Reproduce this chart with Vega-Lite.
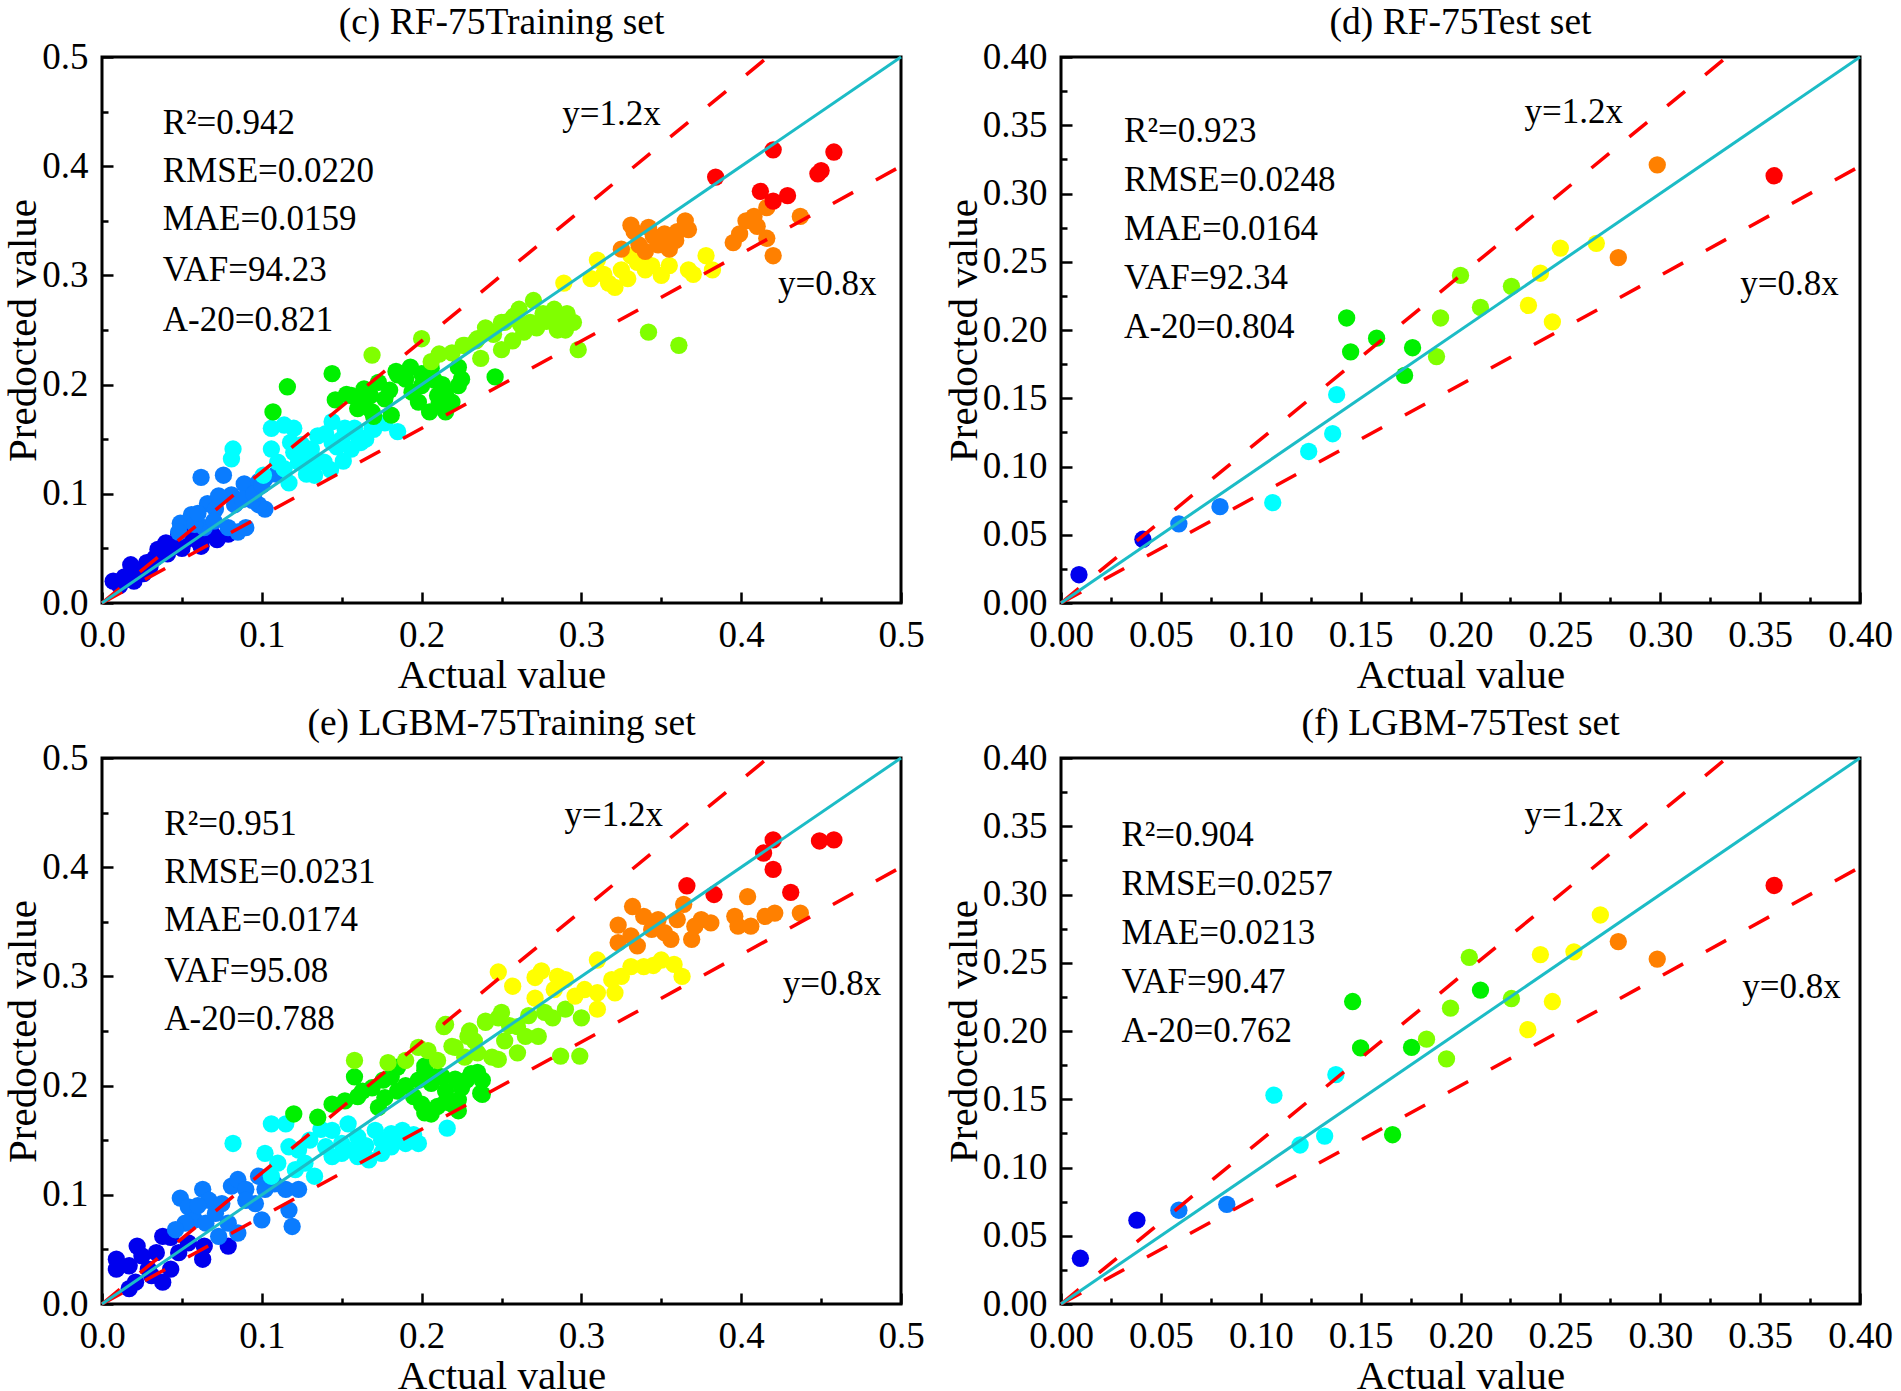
{
  "$schema": "https://vega.github.io/schema/vega-lite/v6.json",
  "background": "white",
  "padding": {"left": 1, "top": 2, "right": 0, "bottom": 0},
  "columns": 2,
  "spacing": {"row": 155, "column": 160},
  "bounds": "flush",
  "datasets": {
    "c_pts": [
      {"a":0.007,"p":0.020,"g":"b0"},{"a":0.020,"p":0.020,"g":"b0"},{"a":0.018,"p":0.035,"g":"b0"},{"a":0.028,"p":0.037,"g":"b0"},{"a":0.035,"p":0.049,"g":"b0"},{"a":0.045,"p":0.053,"g":"b0"},{"a":0.048,"p":0.063,"g":"b0"},{"a":0.056,"p":0.065,"g":"b0"},{"a":0.064,"p":0.061,"g":"b0"},{"a":0.069,"p":0.063,"g":"b0"},{"a":0.052,"p":0.057,"g":"b0"},{"a":0.041,"p":0.045,"g":"b0"},{"a":0.030,"p":0.033,"g":"b0"},{"a":0.014,"p":0.024,"g":"b0"},{"a":0.011,"p":0.016,"g":"b0"},{"a":0.079,"p":0.063,"g":"b0"},{"a":0.060,"p":0.057,"g":"b0"},{"a":0.033,"p":0.041,"g":"b0"},{"a":0.024,"p":0.030,"g":"b0"},{"a":0.050,"p":0.050,"g":"b0"},{"a":0.040,"p":0.055,"g":"b0"},{"a":0.026,"p":0.027,"g":"b0"},{"a":0.062,"p":0.052,"g":"b0"},{"a":0.072,"p":0.058,"g":"b0"},
      {"a":0.062,"p":0.115,"g":"b1"},{"a":0.076,"p":0.117,"g":"b1"},{"a":0.066,"p":0.091,"g":"b1"},{"a":0.049,"p":0.073,"g":"b1"},{"a":0.056,"p":0.081,"g":"b1"},{"a":0.081,"p":0.099,"g":"b1"},{"a":0.089,"p":0.109,"g":"b1"},{"a":0.098,"p":0.111,"g":"b1"},{"a":0.102,"p":0.114,"g":"b1"},{"a":0.102,"p":0.086,"g":"b1"},{"a":0.098,"p":0.090,"g":"b1"},{"a":0.085,"p":0.065,"g":"b1"},{"a":0.079,"p":0.069,"g":"b1"},{"a":0.071,"p":0.086,"g":"b1"},{"a":0.048,"p":0.065,"g":"b1"},{"a":0.094,"p":0.094,"g":"b1"},{"a":0.083,"p":0.090,"g":"b1"},{"a":0.090,"p":0.069,"g":"b1"},{"a":0.064,"p":0.069,"g":"b1"},{"a":0.109,"p":0.118,"g":"b1"},{"a":0.070,"p":0.075,"g":"b1"},{"a":0.058,"p":0.072,"g":"b1"},{"a":0.088,"p":0.095,"g":"b1"},{"a":0.095,"p":0.100,"g":"b1"},{"a":0.100,"p":0.108,"g":"b1"},{"a":0.073,"p":0.098,"g":"b1"},{"a":0.060,"p":0.082,"g":"b1"},
      {"a":0.082,"p":0.141,"g":"c"},{"a":0.081,"p":0.132,"g":"c"},{"a":0.106,"p":0.160,"g":"c"},{"a":0.114,"p":0.163,"g":"c"},{"a":0.120,"p":0.160,"g":"c"},{"a":0.106,"p":0.141,"g":"c"},{"a":0.110,"p":0.129,"g":"c"},{"a":0.101,"p":0.117,"g":"c"},{"a":0.114,"p":0.123,"g":"c"},{"a":0.123,"p":0.129,"g":"c"},{"a":0.131,"p":0.141,"g":"c"},{"a":0.135,"p":0.153,"g":"c"},{"a":0.144,"p":0.166,"g":"c"},{"a":0.152,"p":0.160,"g":"c"},{"a":0.160,"p":0.153,"g":"c"},{"a":0.169,"p":0.160,"g":"c"},{"a":0.185,"p":0.157,"g":"c"},{"a":0.144,"p":0.147,"g":"c"},{"a":0.139,"p":0.129,"g":"c"},{"a":0.133,"p":0.117,"g":"c"},{"a":0.156,"p":0.141,"g":"c"},{"a":0.127,"p":0.135,"g":"c"},{"a":0.118,"p":0.147,"g":"c"},{"a":0.128,"p":0.118,"g":"c"},{"a":0.117,"p":0.110,"g":"c"},{"a":0.147,"p":0.143,"g":"c"},{"a":0.162,"p":0.147,"g":"c"},{"a":0.170,"p":0.159,"g":"c"},{"a":0.177,"p":0.165,"g":"c"},{"a":0.151,"p":0.130,"g":"c"},{"a":0.143,"p":0.122,"g":"c"},{"a":0.136,"p":0.130,"g":"c"},{"a":0.125,"p":0.145,"g":"c"},{"a":0.140,"p":0.155,"g":"c"},{"a":0.150,"p":0.150,"g":"c"},{"a":0.158,"p":0.160,"g":"c"},{"a":0.165,"p":0.150,"g":"c"},{"a":0.130,"p":0.125,"g":"c"},{"a":0.120,"p":0.138,"g":"c"},
      {"a":0.116,"p":0.198,"g":"g"},{"a":0.107,"p":0.175,"g":"g"},{"a":0.144,"p":0.210,"g":"g"},{"a":0.146,"p":0.186,"g":"g"},{"a":0.156,"p":0.190,"g":"g"},{"a":0.164,"p":0.196,"g":"g"},{"a":0.173,"p":0.202,"g":"g"},{"a":0.177,"p":0.187,"g":"g"},{"a":0.181,"p":0.172,"g":"g"},{"a":0.185,"p":0.209,"g":"g"},{"a":0.198,"p":0.184,"g":"g"},{"a":0.200,"p":0.199,"g":"g"},{"a":0.206,"p":0.215,"g":"g"},{"a":0.210,"p":0.190,"g":"g"},{"a":0.219,"p":0.184,"g":"g"},{"a":0.215,"p":0.175,"g":"g"},{"a":0.223,"p":0.199,"g":"g"},{"a":0.246,"p":0.207,"g":"g"},{"a":0.205,"p":0.175,"g":"g"},{"a":0.194,"p":0.193,"g":"g"},{"a":0.169,"p":0.175,"g":"g"},{"a":0.160,"p":0.178,"g":"g"},{"a":0.153,"p":0.191,"g":"g"},{"a":0.162,"p":0.183,"g":"g"},{"a":0.184,"p":0.212,"g":"g"},{"a":0.193,"p":0.216,"g":"g"},{"a":0.208,"p":0.204,"g":"g"},{"a":0.215,"p":0.191,"g":"g"},{"a":0.223,"p":0.216,"g":"g"},{"a":0.211,"p":0.183,"g":"g"},{"a":0.170,"p":0.171,"g":"g"},{"a":0.190,"p":0.205,"g":"g"},{"a":0.200,"p":0.210,"g":"g"},{"a":0.180,"p":0.195,"g":"g"},{"a":0.213,"p":0.200,"g":"g"},{"a":0.225,"p":0.205,"g":"g"},{"a":0.168,"p":0.190,"g":"g"},
      {"a":0.169,"p":0.227,"g":"yg"},{"a":0.200,"p":0.242,"g":"yg"},{"a":0.206,"p":0.221,"g":"yg"},{"a":0.219,"p":0.229,"g":"yg"},{"a":0.227,"p":0.236,"g":"yg"},{"a":0.235,"p":0.242,"g":"yg"},{"a":0.244,"p":0.248,"g":"yg"},{"a":0.252,"p":0.257,"g":"yg"},{"a":0.258,"p":0.263,"g":"yg"},{"a":0.237,"p":0.224,"g":"yg"},{"a":0.270,"p":0.277,"g":"yg"},{"a":0.261,"p":0.269,"g":"yg"},{"a":0.257,"p":0.261,"g":"yg"},{"a":0.250,"p":0.257,"g":"yg"},{"a":0.264,"p":0.248,"g":"yg"},{"a":0.276,"p":0.265,"g":"yg"},{"a":0.283,"p":0.269,"g":"yg"},{"a":0.291,"p":0.265,"g":"yg"},{"a":0.295,"p":0.257,"g":"yg"},{"a":0.298,"p":0.232,"g":"yg"},{"a":0.289,"p":0.257,"g":"yg"},{"a":0.280,"p":0.261,"g":"yg"},{"a":0.268,"p":0.257,"g":"yg"},{"a":0.245,"p":0.246,"g":"yg"},{"a":0.234,"p":0.240,"g":"yg"},{"a":0.226,"p":0.236,"g":"yg"},{"a":0.211,"p":0.228,"g":"yg"},{"a":0.257,"p":0.240,"g":"yg"},{"a":0.250,"p":0.232,"g":"yg"},{"a":0.342,"p":0.248,"g":"yg"},{"a":0.361,"p":0.236,"g":"yg"},{"a":0.285,"p":0.250,"g":"yg"},{"a":0.272,"p":0.252,"g":"yg"},{"a":0.240,"p":0.252,"g":"yg"},{"a":0.262,"p":0.255,"g":"yg"},{"a":0.278,"p":0.258,"g":"yg"},{"a":0.290,"p":0.250,"g":"yg"},
      {"a":0.310,"p":0.314,"g":"y"},{"a":0.314,"p":0.301,"g":"y"},{"a":0.317,"p":0.293,"g":"y"},{"a":0.321,"p":0.289,"g":"y"},{"a":0.331,"p":0.318,"g":"y"},{"a":0.340,"p":0.305,"g":"y"},{"a":0.355,"p":0.309,"g":"y"},{"a":0.367,"p":0.305,"g":"y"},{"a":0.378,"p":0.318,"g":"y"},{"a":0.382,"p":0.305,"g":"y"},{"a":0.306,"p":0.297,"g":"y"},{"a":0.325,"p":0.305,"g":"y"},{"a":0.344,"p":0.309,"g":"y"},{"a":0.289,"p":0.293,"g":"y"},{"a":0.370,"p":0.301,"g":"y"},{"a":0.329,"p":0.297,"g":"y"},{"a":0.335,"p":0.312,"g":"y"},{"a":0.350,"p":0.300,"g":"y"},
      {"a":0.331,"p":0.346,"g":"o"},{"a":0.342,"p":0.344,"g":"o"},{"a":0.352,"p":0.338,"g":"o"},{"a":0.359,"p":0.332,"g":"o"},{"a":0.365,"p":0.350,"g":"o"},{"a":0.367,"p":0.342,"g":"o"},{"a":0.348,"p":0.328,"g":"o"},{"a":0.336,"p":0.328,"g":"o"},{"a":0.325,"p":0.324,"g":"o"},{"a":0.340,"p":0.322,"g":"o"},{"a":0.355,"p":0.324,"g":"o"},{"a":0.403,"p":0.350,"g":"o"},{"a":0.408,"p":0.354,"g":"o"},{"a":0.416,"p":0.362,"g":"o"},{"a":0.395,"p":0.330,"g":"o"},{"a":0.399,"p":0.338,"g":"o"},{"a":0.416,"p":0.334,"g":"o"},{"a":0.420,"p":0.318,"g":"o"},{"a":0.437,"p":0.354,"g":"o"},{"a":0.345,"p":0.336,"g":"o"},{"a":0.333,"p":0.340,"g":"o"},{"a":0.360,"p":0.340,"g":"o"},{"a":0.410,"p":0.345,"g":"o"},
      {"a":0.384,"p":0.390,"g":"r"},{"a":0.420,"p":0.415,"g":"r"},{"a":0.458,"p":0.413,"g":"r"},{"a":0.448,"p":0.393,"g":"r"},{"a":0.450,"p":0.396,"g":"r"},{"a":0.412,"p":0.377,"g":"r"},{"a":0.420,"p":0.368,"g":"r"},{"a":0.429,"p":0.373,"g":"r"}
    ],
    "d_pts": [
      {"a":0.009,"p":0.0207,"g":"b0"},{"a":0.041,"p":0.0467,"g":"b0"},{"a":0.059,"p":0.058,"g":"b1"},{"a":0.0796,"p":0.0706,"g":"b1"},
      {"a":0.106,"p":0.0735,"g":"c"},{"a":0.124,"p":0.111,"g":"c"},{"a":0.136,"p":0.124,"g":"c"},{"a":0.138,"p":0.1526,"g":"c"},
      {"a":0.143,"p":0.2088,"g":"g"},{"a":0.145,"p":0.184,"g":"g"},{"a":0.158,"p":0.194,"g":"g"},{"a":0.172,"p":0.1667,"g":"g"},{"a":0.176,"p":0.187,"g":"g"},
      {"a":0.188,"p":0.1805,"g":"yg"},{"a":0.190,"p":0.2088,"g":"yg"},{"a":0.200,"p":0.240,"g":"yg"},{"a":0.210,"p":0.2165,"g":"yg"},{"a":0.2255,"p":0.232,"g":"yg"},
      {"a":0.234,"p":0.218,"g":"y"},{"a":0.240,"p":0.2416,"g":"y"},{"a":0.246,"p":0.206,"g":"y"},{"a":0.250,"p":0.260,"g":"y"},{"a":0.268,"p":0.2635,"g":"y"},
      {"a":0.279,"p":0.253,"g":"o"},{"a":0.2985,"p":0.321,"g":"o"},{"a":0.357,"p":0.313,"g":"r"}
    ],
    "e_pts": [
      {"a":0.009,"p":0.041,"g":"b0"},{"a":0.009,"p":0.032,"g":"b0"},{"a":0.017,"p":0.035,"g":"b0"},{"a":0.022,"p":0.053,"g":"b0"},{"a":0.025,"p":0.044,"g":"b0"},{"a":0.021,"p":0.020,"g":"b0"},{"a":0.029,"p":0.032,"g":"b0"},{"a":0.034,"p":0.047,"g":"b0"},{"a":0.038,"p":0.062,"g":"b0"},{"a":0.043,"p":0.061,"g":"b0"},{"a":0.043,"p":0.032,"g":"b0"},{"a":0.038,"p":0.020,"g":"b0"},{"a":0.048,"p":0.047,"g":"b0"},{"a":0.063,"p":0.041,"g":"b0"},{"a":0.064,"p":0.053,"g":"b0"},{"a":0.079,"p":0.053,"g":"b0"},{"a":0.031,"p":0.026,"g":"b0"},{"a":0.017,"p":0.014,"g":"b0"},{"a":0.054,"p":0.056,"g":"b0"},
      {"a":0.049,"p":0.097,"g":"b1"},{"a":0.054,"p":0.089,"g":"b1"},{"a":0.063,"p":0.105,"g":"b1"},{"a":0.067,"p":0.095,"g":"b1"},{"a":0.058,"p":0.077,"g":"b1"},{"a":0.052,"p":0.074,"g":"b1"},{"a":0.046,"p":0.068,"g":"b1"},{"a":0.075,"p":0.092,"g":"b1"},{"a":0.081,"p":0.108,"g":"b1"},{"a":0.085,"p":0.114,"g":"b1"},{"a":0.090,"p":0.105,"g":"b1"},{"a":0.096,"p":0.092,"g":"b1"},{"a":0.100,"p":0.077,"g":"b1"},{"a":0.085,"p":0.065,"g":"b1"},{"a":0.073,"p":0.062,"g":"b1"},{"a":0.098,"p":0.117,"g":"b1"},{"a":0.102,"p":0.105,"g":"b1"},{"a":0.115,"p":0.105,"g":"b1"},{"a":0.123,"p":0.105,"g":"b1"},{"a":0.117,"p":0.086,"g":"b1"},{"a":0.119,"p":0.071,"g":"b1"},{"a":0.065,"p":0.074,"g":"b1"},{"a":0.079,"p":0.074,"g":"b1"},{"a":0.071,"p":0.083,"g":"b1"},{"a":0.060,"p":0.090,"g":"b1"},{"a":0.090,"p":0.095,"g":"b1"},{"a":0.108,"p":0.110,"g":"b1"},
      {"a":0.082,"p":0.147,"g":"c"},{"a":0.106,"p":0.165,"g":"c"},{"a":0.115,"p":0.165,"g":"c"},{"a":0.102,"p":0.138,"g":"c"},{"a":0.110,"p":0.129,"g":"c"},{"a":0.106,"p":0.117,"g":"c"},{"a":0.117,"p":0.144,"g":"c"},{"a":0.123,"p":0.141,"g":"c"},{"a":0.127,"p":0.129,"g":"c"},{"a":0.133,"p":0.117,"g":"c"},{"a":0.144,"p":0.159,"g":"c"},{"a":0.150,"p":0.147,"g":"c"},{"a":0.156,"p":0.141,"g":"c"},{"a":0.160,"p":0.153,"g":"c"},{"a":0.171,"p":0.159,"g":"c"},{"a":0.175,"p":0.150,"g":"c"},{"a":0.181,"p":0.156,"g":"c"},{"a":0.188,"p":0.159,"g":"c"},{"a":0.190,"p":0.147,"g":"c"},{"a":0.198,"p":0.147,"g":"c"},{"a":0.216,"p":0.161,"g":"c"},{"a":0.167,"p":0.132,"g":"c"},{"a":0.144,"p":0.135,"g":"c"},{"a":0.154,"p":0.165,"g":"c"},{"a":0.140,"p":0.144,"g":"c"},{"a":0.121,"p":0.123,"g":"c"},{"a":0.175,"p":0.138,"g":"c"},{"a":0.181,"p":0.144,"g":"c"},{"a":0.130,"p":0.150,"g":"c"},{"a":0.137,"p":0.160,"g":"c"},{"a":0.165,"p":0.145,"g":"c"},{"a":0.185,"p":0.150,"g":"c"},{"a":0.195,"p":0.155,"g":"c"},{"a":0.160,"p":0.135,"g":"c"},{"a":0.150,"p":0.138,"g":"c"},
      {"a":0.120,"p":0.174,"g":"g"},{"a":0.135,"p":0.171,"g":"g"},{"a":0.144,"p":0.183,"g":"g"},{"a":0.152,"p":0.186,"g":"g"},{"a":0.158,"p":0.208,"g":"g"},{"a":0.163,"p":0.195,"g":"g"},{"a":0.169,"p":0.198,"g":"g"},{"a":0.177,"p":0.189,"g":"g"},{"a":0.185,"p":0.195,"g":"g"},{"a":0.185,"p":0.217,"g":"g"},{"a":0.198,"p":0.205,"g":"g"},{"a":0.202,"p":0.214,"g":"g"},{"a":0.206,"p":0.202,"g":"g"},{"a":0.200,"p":0.183,"g":"g"},{"a":0.206,"p":0.174,"g":"g"},{"a":0.215,"p":0.195,"g":"g"},{"a":0.219,"p":0.183,"g":"g"},{"a":0.225,"p":0.198,"g":"g"},{"a":0.231,"p":0.211,"g":"g"},{"a":0.238,"p":0.205,"g":"g"},{"a":0.238,"p":0.192,"g":"g"},{"a":0.223,"p":0.177,"g":"g"},{"a":0.213,"p":0.208,"g":"g"},{"a":0.173,"p":0.180,"g":"g"},{"a":0.181,"p":0.208,"g":"g"},{"a":0.202,"p":0.218,"g":"g"},{"a":0.210,"p":0.209,"g":"g"},{"a":0.221,"p":0.206,"g":"g"},{"a":0.235,"p":0.212,"g":"g"},{"a":0.237,"p":0.193,"g":"g"},{"a":0.223,"p":0.187,"g":"g"},{"a":0.210,"p":0.181,"g":"g"},{"a":0.202,"p":0.175,"g":"g"},{"a":0.190,"p":0.200,"g":"g"},{"a":0.195,"p":0.190,"g":"g"},{"a":0.215,"p":0.185,"g":"g"},{"a":0.228,"p":0.205,"g":"g"},{"a":0.176,"p":0.205,"g":"g"},{"a":0.160,"p":0.190,"g":"g"},
      {"a":0.158,"p":0.223,"g":"yg"},{"a":0.179,"p":0.221,"g":"yg"},{"a":0.190,"p":0.223,"g":"yg"},{"a":0.198,"p":0.235,"g":"yg"},{"a":0.215,"p":0.256,"g":"yg"},{"a":0.221,"p":0.235,"g":"yg"},{"a":0.227,"p":0.226,"g":"yg"},{"a":0.233,"p":0.241,"g":"yg"},{"a":0.240,"p":0.259,"g":"yg"},{"a":0.248,"p":0.262,"g":"yg"},{"a":0.252,"p":0.241,"g":"yg"},{"a":0.244,"p":0.226,"g":"yg"},{"a":0.210,"p":0.223,"g":"yg"},{"a":0.204,"p":0.232,"g":"yg"},{"a":0.214,"p":0.254,"g":"yg"},{"a":0.240,"p":0.258,"g":"yg"},{"a":0.250,"p":0.267,"g":"yg"},{"a":0.260,"p":0.254,"g":"yg"},{"a":0.267,"p":0.264,"g":"yg"},{"a":0.277,"p":0.267,"g":"yg"},{"a":0.290,"p":0.270,"g":"yg"},{"a":0.300,"p":0.262,"g":"yg"},{"a":0.273,"p":0.245,"g":"yg"},{"a":0.260,"p":0.230,"g":"yg"},{"a":0.248,"p":0.224,"g":"yg"},{"a":0.287,"p":0.227,"g":"yg"},{"a":0.299,"p":0.227,"g":"yg"},{"a":0.229,"p":0.245,"g":"yg"},{"a":0.219,"p":0.236,"g":"yg"},{"a":0.235,"p":0.230,"g":"yg"},{"a":0.230,"p":0.250,"g":"yg"},{"a":0.255,"p":0.255,"g":"yg"},{"a":0.282,"p":0.262,"g":"yg"},{"a":0.265,"p":0.245,"g":"yg"},
      {"a":0.248,"p":0.304,"g":"y"},{"a":0.257,"p":0.291,"g":"y"},{"a":0.271,"p":0.299,"g":"y"},{"a":0.275,"p":0.305,"g":"y"},{"a":0.271,"p":0.280,"g":"y"},{"a":0.283,"p":0.288,"g":"y"},{"a":0.290,"p":0.297,"g":"y"},{"a":0.296,"p":0.282,"g":"y"},{"a":0.310,"p":0.315,"g":"y"},{"a":0.310,"p":0.285,"g":"y"},{"a":0.310,"p":0.270,"g":"y"},{"a":0.319,"p":0.297,"g":"y"},{"a":0.321,"p":0.285,"g":"y"},{"a":0.331,"p":0.309,"g":"y"},{"a":0.339,"p":0.309,"g":"y"},{"a":0.350,"p":0.315,"g":"y"},{"a":0.358,"p":0.311,"g":"y"},{"a":0.363,"p":0.300,"g":"y"},{"a":0.302,"p":0.288,"g":"y"},{"a":0.285,"p":0.300,"g":"y"},{"a":0.325,"p":0.300,"g":"y"},{"a":0.345,"p":0.310,"g":"y"},
      {"a":0.332,"p":0.364,"g":"o"},{"a":0.323,"p":0.347,"g":"o"},{"a":0.339,"p":0.355,"g":"o"},{"a":0.344,"p":0.343,"g":"o"},{"a":0.331,"p":0.337,"g":"o"},{"a":0.323,"p":0.331,"g":"o"},{"a":0.348,"p":0.352,"g":"o"},{"a":0.364,"p":0.366,"g":"o"},{"a":0.360,"p":0.352,"g":"o"},{"a":0.356,"p":0.334,"g":"o"},{"a":0.371,"p":0.346,"g":"o"},{"a":0.381,"p":0.349,"g":"o"},{"a":0.369,"p":0.334,"g":"o"},{"a":0.404,"p":0.373,"g":"o"},{"a":0.398,"p":0.346,"g":"o"},{"a":0.406,"p":0.346,"g":"o"},{"a":0.421,"p":0.358,"g":"o"},{"a":0.415,"p":0.355,"g":"o"},{"a":0.437,"p":0.358,"g":"o"},{"a":0.396,"p":0.355,"g":"o"},{"a":0.335,"p":0.328,"g":"o"},{"a":0.352,"p":0.340,"g":"o"},{"a":0.375,"p":0.352,"g":"o"},
      {"a":0.420,"p":0.425,"g":"r"},{"a":0.414,"p":0.413,"g":"r"},{"a":0.420,"p":0.398,"g":"r"},{"a":0.449,"p":0.424,"g":"r"},{"a":0.458,"p":0.425,"g":"r"},{"a":0.366,"p":0.383,"g":"r"},{"a":0.383,"p":0.375,"g":"r"},{"a":0.431,"p":0.377,"g":"r"}
    ],
    "f_pts": [
      {"a":0.0097,"p":0.0335,"g":"b0"},{"a":0.038,"p":0.0614,"g":"b0"},{"a":0.059,"p":0.0687,"g":"b1"},{"a":0.083,"p":0.073,"g":"b1"},
      {"a":0.1066,"p":0.153,"g":"c"},{"a":0.1197,"p":0.1165,"g":"c"},{"a":0.132,"p":0.123,"g":"c"},{"a":0.1376,"p":0.168,"g":"c"},
      {"a":0.146,"p":0.2216,"g":"g"},{"a":0.150,"p":0.1876,"g":"g"},{"a":0.166,"p":0.124,"g":"g"},{"a":0.1755,"p":0.188,"g":"g"},{"a":0.210,"p":0.230,"g":"g"},
      {"a":0.183,"p":0.194,"g":"yg"},{"a":0.193,"p":0.1796,"g":"yg"},{"a":0.195,"p":0.2167,"g":"yg"},{"a":0.2044,"p":0.254,"g":"yg"},{"a":0.2255,"p":0.2238,"g":"yg"},
      {"a":0.2337,"p":0.201,"g":"y"},{"a":0.240,"p":0.256,"g":"y"},{"a":0.246,"p":0.2216,"g":"y"},{"a":0.2568,"p":0.258,"g":"y"},{"a":0.270,"p":0.285,"g":"y"},
      {"a":0.279,"p":0.2655,"g":"o"},{"a":0.2985,"p":0.2527,"g":"o"},{"a":0.357,"p":0.3066,"g":"r"}
    ],
    "train_lines": [
      {"k":"eq","a":0,"p":0},{"k":"eq","a":0.5,"p":0.5},
      {"k":"hi","a":0,"p":0},{"k":"hi","a":0.41667,"p":0.5},
      {"k":"lo","a":0,"p":0},{"k":"lo","a":0.5,"p":0.4}
    ],
    "test_lines": [
      {"k":"eq","a":0,"p":0},{"k":"eq","a":0.4,"p":0.4},
      {"k":"hi","a":0,"p":0},{"k":"hi","a":0.33333,"p":0.4},
      {"k":"lo","a":0,"p":0},{"k":"lo","a":0.4,"p":0.32}
    ],
    "c_notes": [
      {"t":"R²=0.942","a":0.038,"p":0.4295},{"t":"RMSE=0.0220","a":0.038,"p":0.3855},{"t":"MAE=0.0159","a":0.038,"p":0.3416},{"t":"VAF=94.23","a":0.038,"p":0.2945},{"t":"A-20=0.821","a":0.038,"p":0.2495},
      {"t":"y=1.2x","a":0.288,"p":0.438},{"t":"y=0.8x","a":0.423,"p":0.282}
    ],
    "d_notes": [
      {"t":"R²=0.923","a":0.0316,"p":0.338},{"t":"RMSE=0.0248","a":0.0316,"p":0.302},{"t":"MAE=0.0164","a":0.0316,"p":0.266},{"t":"VAF=92.34","a":0.0316,"p":0.230},{"t":"A-20=0.804","a":0.0316,"p":0.194},
      {"t":"y=1.2x","a":0.232,"p":0.3516},{"t":"y=0.8x","a":0.340,"p":0.226}
    ],
    "e_notes": [
      {"t":"R²=0.951","a":0.039,"p":0.4295},{"t":"RMSE=0.0231","a":0.039,"p":0.3855},{"t":"MAE=0.0174","a":0.039,"p":0.3416},{"t":"VAF=95.08","a":0.039,"p":0.2945},{"t":"A-20=0.788","a":0.039,"p":0.2505},
      {"t":"y=1.2x","a":0.2895,"p":0.438},{"t":"y=0.8x","a":0.426,"p":0.283}
    ],
    "f_notes": [
      {"t":"R²=0.904","a":0.0303,"p":0.3357},{"t":"RMSE=0.0257","a":0.0303,"p":0.2993},{"t":"MAE=0.0213","a":0.0303,"p":0.264},{"t":"VAF=90.47","a":0.0303,"p":0.2277},{"t":"A-20=0.762","a":0.0303,"p":0.1917},
      {"t":"y=1.2x","a":0.232,"p":0.350},{"t":"y=0.8x","a":0.341,"p":0.224}
    ]
  },
  "config": {
    "view": {"stroke": "black", "strokeWidth": 3},
    "axis": {
      "grid": false,
      "domain": false,
      "tickColor": "black",
      "tickWidth": 2.5,
      "labelFont": "Liberation Serif",
      "labelFontSize": 37,
      "labelColor": "black",
      "labelFlush": false,
      "labelOverlap": false,
      "labelPadding": 25,
      "titleFont": "Liberation Serif",
      "titleFontSize": 41,
      "titleFontWeight": "normal",
      "titleColor": "black"
    },
    "axisX": {"titlePadding": -3},
    "axisY": {"titlePadding": -3},
    "title": {"font": "Liberation Serif", "fontSize": 37.5, "fontWeight": "normal", "color": "black", "anchor": "middle", "baseline": "alphabetic", "offset": -3}
  },
  "concat": [
    {
      "width": 799, "height": 546,
      "title": "(c) RF-75Training set",
      "encoding": {
        "x": {"field": "a", "type": "quantitative", "scale": {"domain": [0, 0.5], "nice": false, "zero": false},
              "axis": {"title": "Actual value", "format": ".1f", "values": [0,0.05,0.1,0.15,0.2,0.25,0.3,0.35,0.4,0.45,0.5],
                       "labelExpr": "abs(datum.value*10-round(datum.value*10))<1e-6 ? datum.label : ''",
                       "tickSize": {"condition": {"test": "abs(datum.value*10-round(datum.value*10))<1e-6", "value": -11}, "value": -6}}},
        "y": {"field": "p", "type": "quantitative", "scale": {"domain": [0, 0.5], "nice": false, "zero": false},
              "axis": {"title": "Predocted value", "format": ".1f", "values": [0,0.05,0.1,0.15,0.2,0.25,0.3,0.35,0.4,0.45,0.5],
                       "labelExpr": "abs(datum.value*10-round(datum.value*10))<1e-6 ? datum.label : ''",
                       "tickSize": {"condition": {"test": "abs(datum.value*10-round(datum.value*10))<1e-6", "value": -11}, "value": -6}}}
      },
      "layer": [
        {"data": {"name": "c_pts"}, "mark": {"type": "circle", "size": 300, "opacity": 1},
         "encoding": {"color": {"field": "g", "type": "nominal", "legend": null,
           "scale": {"domain": ["b0","b1","c","g","yg","y","o","r"], "range": ["#0000ee","#0a7cff","#00ffff","#00f000","#80ff00","#ffff00","#ff8000","#ff0000"]}}}},
        {"data": {"name": "train_lines"}, "transform": [{"filter": "datum.k != 'eq'"}],
         "mark": {"type": "line", "color": "#ff0000", "strokeWidth": 3.5, "strokeDash": [23, 26]},
         "encoding": {"detail": {"field": "k"}}},
        {"data": {"name": "train_lines"}, "transform": [{"filter": "datum.k == 'eq'"}],
         "mark": {"type": "line", "color": "#1cbcc6", "strokeWidth": 3}, "encoding": {}},
        {"data": {"name": "c_notes"}, "mark": {"type": "text", "align": "left", "baseline": "alphabetic", "font": "Liberation Serif", "fontSize": 35, "color": "black"},
         "encoding": {"text": {"field": "t"}}}
      ]
    },
    {
      "width": 799, "height": 546,
      "title": "(d) RF-75Test set",
      "encoding": {
        "x": {"field": "a", "type": "quantitative", "scale": {"domain": [0, 0.4], "nice": false, "zero": false},
              "axis": {"title": "Actual value", "format": ".2f", "values": [0,0.025,0.05,0.075,0.1,0.125,0.15,0.175,0.2,0.225,0.25,0.275,0.3,0.325,0.35,0.375,0.4],
                       "labelExpr": "abs(datum.value*20-round(datum.value*20))<1e-6 ? datum.label : ''",
                       "tickSize": {"condition": {"test": "abs(datum.value*20-round(datum.value*20))<1e-6", "value": -11}, "value": -6}}},
        "y": {"field": "p", "type": "quantitative", "scale": {"domain": [0, 0.4], "nice": false, "zero": false},
              "axis": {"title": "Predocted value", "format": ".2f", "values": [0,0.025,0.05,0.075,0.1,0.125,0.15,0.175,0.2,0.225,0.25,0.275,0.3,0.325,0.35,0.375,0.4],
                       "labelExpr": "abs(datum.value*20-round(datum.value*20))<1e-6 ? datum.label : ''",
                       "tickSize": {"condition": {"test": "abs(datum.value*20-round(datum.value*20))<1e-6", "value": -11}, "value": -6}}}
      },
      "layer": [
        {"data": {"name": "d_pts"}, "mark": {"type": "circle", "size": 300, "opacity": 1},
         "encoding": {"color": {"field": "g", "type": "nominal", "legend": null,
           "scale": {"domain": ["b0","b1","c","g","yg","y","o","r"], "range": ["#0000ee","#0a7cff","#00ffff","#00f000","#80ff00","#ffff00","#ff8000","#ff0000"]}}}},
        {"data": {"name": "test_lines"}, "transform": [{"filter": "datum.k != 'eq'"}],
         "mark": {"type": "line", "color": "#ff0000", "strokeWidth": 3.5, "strokeDash": [23, 26]},
         "encoding": {"detail": {"field": "k"}}},
        {"data": {"name": "test_lines"}, "transform": [{"filter": "datum.k == 'eq'"}],
         "mark": {"type": "line", "color": "#1cbcc6", "strokeWidth": 3}, "encoding": {}},
        {"data": {"name": "d_notes"}, "mark": {"type": "text", "align": "left", "baseline": "alphabetic", "font": "Liberation Serif", "fontSize": 35, "color": "black"},
         "encoding": {"text": {"field": "t"}}}
      ]
    },
    {
      "width": 799, "height": 546,
      "title": "(e) LGBM-75Training set",
      "encoding": {
        "x": {"field": "a", "type": "quantitative", "scale": {"domain": [0, 0.5], "nice": false, "zero": false},
              "axis": {"title": "Actual value", "format": ".1f", "values": [0,0.05,0.1,0.15,0.2,0.25,0.3,0.35,0.4,0.45,0.5],
                       "labelExpr": "abs(datum.value*10-round(datum.value*10))<1e-6 ? datum.label : ''",
                       "tickSize": {"condition": {"test": "abs(datum.value*10-round(datum.value*10))<1e-6", "value": -11}, "value": -6}}},
        "y": {"field": "p", "type": "quantitative", "scale": {"domain": [0, 0.5], "nice": false, "zero": false},
              "axis": {"title": "Predocted value", "format": ".1f", "values": [0,0.05,0.1,0.15,0.2,0.25,0.3,0.35,0.4,0.45,0.5],
                       "labelExpr": "abs(datum.value*10-round(datum.value*10))<1e-6 ? datum.label : ''",
                       "tickSize": {"condition": {"test": "abs(datum.value*10-round(datum.value*10))<1e-6", "value": -11}, "value": -6}}}
      },
      "layer": [
        {"data": {"name": "e_pts"}, "mark": {"type": "circle", "size": 300, "opacity": 1},
         "encoding": {"color": {"field": "g", "type": "nominal", "legend": null,
           "scale": {"domain": ["b0","b1","c","g","yg","y","o","r"], "range": ["#0000ee","#0a7cff","#00ffff","#00f000","#80ff00","#ffff00","#ff8000","#ff0000"]}}}},
        {"data": {"name": "train_lines"}, "transform": [{"filter": "datum.k != 'eq'"}],
         "mark": {"type": "line", "color": "#ff0000", "strokeWidth": 3.5, "strokeDash": [23, 26]},
         "encoding": {"detail": {"field": "k"}}},
        {"data": {"name": "train_lines"}, "transform": [{"filter": "datum.k == 'eq'"}],
         "mark": {"type": "line", "color": "#1cbcc6", "strokeWidth": 3}, "encoding": {}},
        {"data": {"name": "e_notes"}, "mark": {"type": "text", "align": "left", "baseline": "alphabetic", "font": "Liberation Serif", "fontSize": 35, "color": "black"},
         "encoding": {"text": {"field": "t"}}}
      ]
    },
    {
      "width": 799, "height": 546,
      "title": "(f) LGBM-75Test set",
      "encoding": {
        "x": {"field": "a", "type": "quantitative", "scale": {"domain": [0, 0.4], "nice": false, "zero": false},
              "axis": {"title": "Actual value", "format": ".2f", "values": [0,0.025,0.05,0.075,0.1,0.125,0.15,0.175,0.2,0.225,0.25,0.275,0.3,0.325,0.35,0.375,0.4],
                       "labelExpr": "abs(datum.value*20-round(datum.value*20))<1e-6 ? datum.label : ''",
                       "tickSize": {"condition": {"test": "abs(datum.value*20-round(datum.value*20))<1e-6", "value": -11}, "value": -6}}},
        "y": {"field": "p", "type": "quantitative", "scale": {"domain": [0, 0.4], "nice": false, "zero": false},
              "axis": {"title": "Predocted value", "format": ".2f", "values": [0,0.025,0.05,0.075,0.1,0.125,0.15,0.175,0.2,0.225,0.25,0.275,0.3,0.325,0.35,0.375,0.4],
                       "labelExpr": "abs(datum.value*20-round(datum.value*20))<1e-6 ? datum.label : ''",
                       "tickSize": {"condition": {"test": "abs(datum.value*20-round(datum.value*20))<1e-6", "value": -11}, "value": -6}}}
      },
      "layer": [
        {"data": {"name": "f_pts"}, "mark": {"type": "circle", "size": 300, "opacity": 1},
         "encoding": {"color": {"field": "g", "type": "nominal", "legend": null,
           "scale": {"domain": ["b0","b1","c","g","yg","y","o","r"], "range": ["#0000ee","#0a7cff","#00ffff","#00f000","#80ff00","#ffff00","#ff8000","#ff0000"]}}}},
        {"data": {"name": "test_lines"}, "transform": [{"filter": "datum.k != 'eq'"}],
         "mark": {"type": "line", "color": "#ff0000", "strokeWidth": 3.5, "strokeDash": [23, 26]},
         "encoding": {"detail": {"field": "k"}}},
        {"data": {"name": "test_lines"}, "transform": [{"filter": "datum.k == 'eq'"}],
         "mark": {"type": "line", "color": "#1cbcc6", "strokeWidth": 3}, "encoding": {}},
        {"data": {"name": "f_notes"}, "mark": {"type": "text", "align": "left", "baseline": "alphabetic", "font": "Liberation Serif", "fontSize": 35, "color": "black"},
         "encoding": {"text": {"field": "t"}}}
      ]
    }
  ]
}
